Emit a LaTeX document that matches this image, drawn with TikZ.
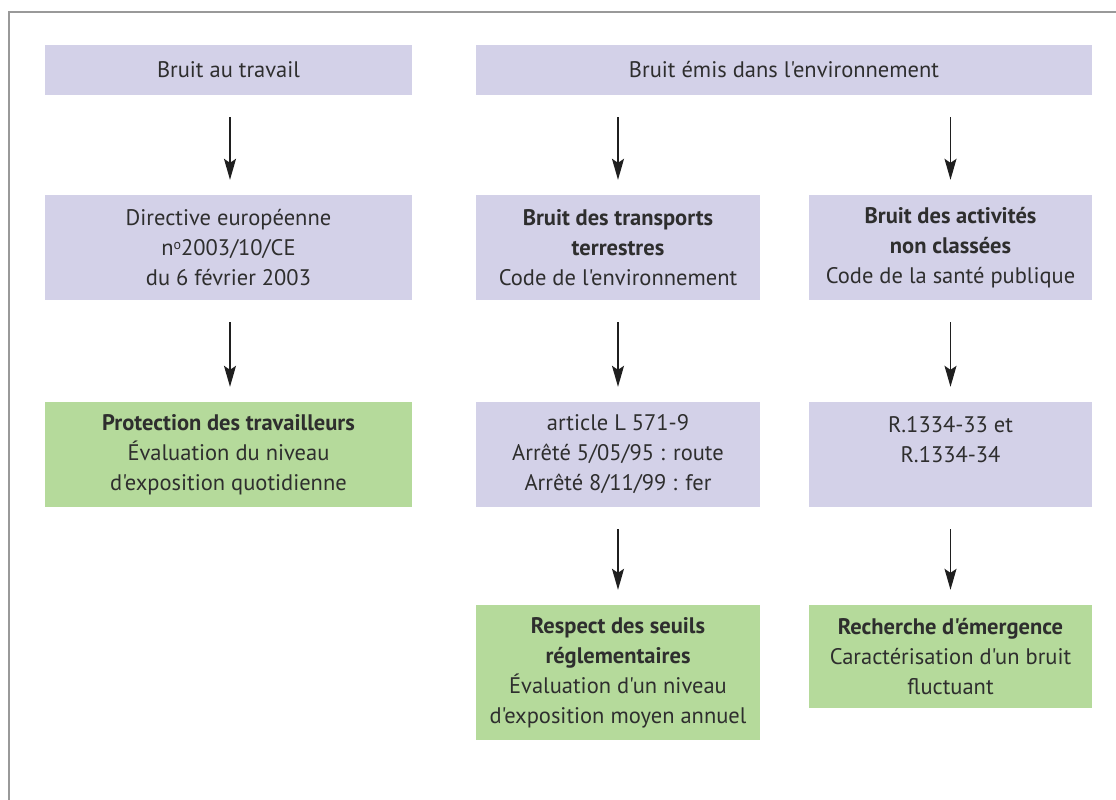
\documentclass[tikz,border=0pt]{standalone}
\usepackage{fontspec}
\setmainfont{PT Sans}[Ligatures=TeXOff]
\usetikzlibrary{arrows.meta}
\definecolor{lav}{HTML}{D3D1E8}
\definecolor{grn}{HTML}{B5DA9B}
\definecolor{txt}{HTML}{2E2E2E}
\definecolor{frame}{HTML}{999999}
\newcommand{\supo}{\raisebox{0.55ex}{\fontsize{14}{14}\selectfont o}}
\begin{document}
\begin{tikzpicture}[x=1pt,y=-1pt,
  box/.style={rectangle,inner sep=0pt,align=center,text=txt,
    font=\fontsize{22.5}{30}\selectfont},
  lavbox/.style={box,fill=lav},
  grnbox/.style={box,fill=grn},
  arr/.style={-{Stealth[length=21pt,width=12pt,inset=4pt]},line width=1.3pt,color=black!88,
    shorten <=22pt, shorten >=15pt}]
\useasboundingbox (0,0) rectangle (1116,800);
\draw[frame,line width=2pt] (9,800) -- (9,12) -- (1116,12);
% row 1
\node[lavbox,minimum width=367pt,minimum height=50pt] (a1) at (228.5,70) {Bruit au travail};
\node[lavbox,minimum width=616pt,minimum height=50pt] (b1) at (784,70) {Bruit émis dans l'environnement};
% row 2
\node[lavbox,minimum width=367pt,minimum height=105pt] (a2) at (228.5,247.5)
  {Directive européenne\\n\supo2003/10/CE\\du 6 février 2003};
\node[lavbox,minimum width=284pt,minimum height=105pt] (b2) at (618,247.5)
  {\textbf{Bruit des transports}\\\textbf{terrestres}\\Code de l'environnement};
\node[lavbox,minimum width=283pt,minimum height=105pt] (c2) at (950.5,247.5)
  {\textbf{Bruit des activités}\\\textbf{non classées}\\Code de la santé publique};
% row 3
\node[grnbox,minimum width=367pt,minimum height=105pt] (a3) at (228.5,454.5)
  {\textbf{Protection des travailleurs}\\Évaluation du niveau\\d'exposition quotidienne};
\node[lavbox,minimum width=284pt,minimum height=105pt] (b3) at (618,454.5)
  {article L 571-9\\Arrêté 5/05/95 : route\\Arrêté 8/11/99 : fer};
\node[lavbox,minimum width=283pt,minimum height=105pt] (c3) at (950.5,454.5)
  {R.1334-33 et\\R.1334-34\\\mbox{}};
% row 4
\node[grnbox,minimum width=284pt,minimum height=135pt] (b4) at (618,672.5)
  {\textbf{Respect des seuils}\\\textbf{réglementaires}\\Évaluation d'un niveau\\d'exposition moyen annuel};
\node[grnbox,minimum width=283pt,minimum height=103pt] (c4) at (950.5,656.5)
  {\textbf{Recherche d'émergence}\\Caractérisation d'un bruit\\fluctuant};
% arrows
\draw[arr] ([xshift=1.5pt]a1.south) -- ([xshift=1.5pt]a2.north);
\draw[arr] ([xshift=1.5pt]a2.south) -- ([xshift=1.5pt]a3.north);
\draw[arr] (b1.south -| b2.north) -- (b2.north);
\draw[arr] (b1.south -| c2.north) -- (c2.north);
\draw[arr] (b2.south) -- (b3.north);
\draw[arr] (b3.south) -- (b4.north);
\draw[arr] (c2.south) -- (c3.north);
\draw[arr] (c3.south) -- (c4.north);
\end{tikzpicture}
\end{document}
